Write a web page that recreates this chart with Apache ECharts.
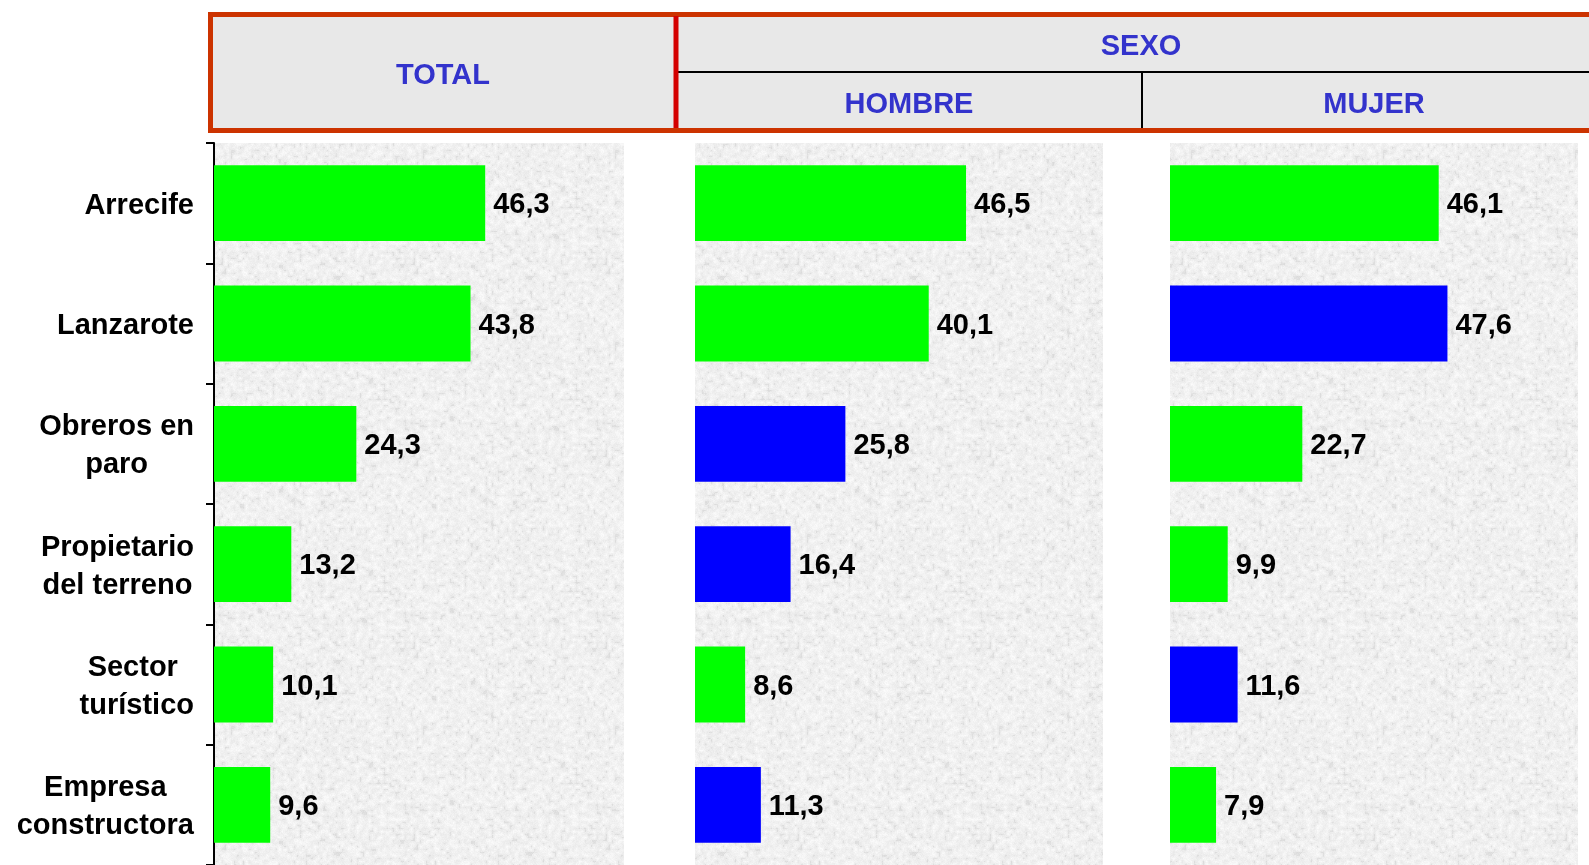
<!DOCTYPE html>
<html>
<head>
<meta charset="utf-8">
<script src="https://cdn.jsdelivr.net/npm/echarts@6/dist/echarts.min.js"></script>
<style>
html,body{margin:0;padding:0;background:#fff;}
#chart{width:1589px;height:865px;}
</style>
</head>
<body>
<div id="chart"></div>
<script>
// ---- data ----
const categories = ['Arrecife', 'Lanzarote', 'Obreros en\nparo', 'Propietario\ndel terreno', 'Sector \nturístico', 'Empresa\nconstructora'];
const totalValues = [46.3, 43.8, 24.3, 13.2, 10.1, 9.6];
const hombreValues = [46.5, 40.1, 25.8, 16.4, 8.6, 11.3];
const mujerValues = [46.1, 47.6, 22.7, 9.9, 11.6, 7.9];
// highlighted (blue) bars
const totalHighlight = [0, 0, 0, 0, 0, 0];
const hombreHighlight = [0, 0, 1, 1, 0, 1];
const mujerHighlight = [0, 1, 0, 0, 1, 0];
const headerTop = 'SEXO';
const headerLabels = ['TOTAL', 'HOMBRE', 'MUJER'];

// ---- texture (deterministic) ----
function makeTexture() {
  const size = 192;
  const c = document.createElement('canvas');
  c.width = size; c.height = size;
  const ctx = c.getContext('2d');
  const img = ctx.createImageData(size, size);
  function h(x, y) {
    const s = Math.sin(x * 12.9898 + y * 78.233) * 43758.5453;
    return s - Math.floor(s);
  }
  const cell = 3;
  const n = size / cell;
  function vn(x, y) {
    const gx = x / cell, gy = y / cell;
    const x0 = Math.floor(gx), y0 = Math.floor(gy);
    const fx = gx - x0, fy = gy - y0;
    const a = h(x0 % n, y0 % n), b = h((x0 + 1) % n, y0 % n);
    const cc = h(x0 % n, (y0 + 1) % n), d = h((x0 + 1) % n, (y0 + 1) % n);
    return (a * (1 - fx) + b * fx) * (1 - fy) + (cc * (1 - fx) + d * fx) * fy;
  }
  for (let y = 0; y < size; y++) {
    for (let x = 0; x < size; x++) {
      const v = vn(x, y);
      const f = h(x + 0.37, y + 0.71);
      let g = 240 + (v - 0.5) * 18 + (f - 0.5) * 8;
      if (v < 0.14) g -= 9;
      g = Math.max(205, Math.min(252, g));
      const i = (y * size + x) * 4;
      img.data[i] = g; img.data[i + 1] = g; img.data[i + 2] = g; img.data[i + 3] = 255;
    }
  }
  ctx.putImageData(img, 0, 0);
  return c;
}
const tex = makeTexture();

const GREEN = '#00FF00', BLUE = '#0000FF';
const gridLefts = [214, 695, 1170];
const gridWidths = [410, 408, 408];
const fontFam = 'Arial, "Liberation Sans", sans-serif';

const seriesData = [totalValues, hombreValues, mujerValues];
const highlights = [totalHighlight, hombreHighlight, mujerHighlight];

const option = {
  animation: false,
  backgroundColor: '#ffffff',
  grid: gridLefts.map((l, i) => ({
    left: l, top: 143, width: gridWidths[i], height: 727,
    show: true, borderWidth: 0,
    backgroundColor: { image: tex, repeat: 'repeat' },
    containLabel: false
  })),
  xAxis: gridLefts.map((l, i) => ({
    type: 'value', gridIndex: i, min: 0, max: 70, show: false
  })),
  yAxis: gridLefts.map((l, i) => ({
    type: 'category', gridIndex: i, data: categories, inverse: true,
    show: i === 0,
    axisLine: { show: true, lineStyle: { color: '#000', width: 2 } },
    axisTick: { show: true, length: 8, lineStyle: { color: '#000', width: 2 } },
    splitLine: { show: false },
    axisLabel: {
      margin: 20,
      padding: [5, 0, 0, 0],
      formatter: v => v.split('\n').map(s => '{c|' + s + '}').join('\n'),
      rich: {
        c: { align: 'center', fontSize: 29, fontWeight: 'bold', fontFamily: fontFam, color: '#000', lineHeight: 38 }
      }
    }
  })),
  series: seriesData.map((vals, i) => ({
    type: 'bar', xAxisIndex: i, yAxisIndex: i,
    barCategoryGap: '37%',
    data: vals.map((v, j) => ({ value: v, itemStyle: { color: highlights[i][j] ? BLUE : GREEN } })),
    label: {
      show: true, position: 'right', distance: 8, offset: [0, 2],
      formatter: p => p.value.toFixed(1).replace('.', ','),
      fontSize: 29, fontWeight: 'bold', fontFamily: fontFam, color: '#000'
    }
  })),
  graphic: [
    { type: 'rect', z: 10, shape: { x: 210.5, y: 14.5, width: 1420, height: 116 },
      style: { fill: '#E8E8E8', stroke: '#CC3300', lineWidth: 5 } },
    { type: 'line', z: 11, shape: { x1: 678, y1: 72, x2: 1589, y2: 72 },
      style: { stroke: '#000', lineWidth: 2 } },
    { type: 'line', z: 11, shape: { x1: 1142, y1: 72, x2: 1142, y2: 128 },
      style: { stroke: '#000', lineWidth: 2 } },
    { type: 'line', z: 12, shape: { x1: 676, y1: 16, x2: 676, y2: 128 },
      style: { stroke: '#D40000', lineWidth: 5 } },
    { type: 'text', z: 13, x: 443, y: 76,
      style: { text: headerLabels[0], fill: '#3333CC', font: 'bold 29px ' + fontFam, textAlign: 'center', textVerticalAlign: 'middle' } },
    { type: 'text', z: 13, x: 1141, y: 47,
      style: { text: headerTop, fill: '#3333CC', font: 'bold 29px ' + fontFam, textAlign: 'center', textVerticalAlign: 'middle' } },
    { type: 'text', z: 13, x: 909, y: 105,
      style: { text: headerLabels[1], fill: '#3333CC', font: 'bold 29px ' + fontFam, textAlign: 'center', textVerticalAlign: 'middle' } },
    { type: 'text', z: 13, x: 1374, y: 105,
      style: { text: headerLabels[2], fill: '#3333CC', font: 'bold 29px ' + fontFam, textAlign: 'center', textVerticalAlign: 'middle' } }
  ]
};

const chart = echarts.init(document.getElementById('chart'), null, { renderer: 'canvas' });
chart.setOption(option);
</script>
</body>
</html>
